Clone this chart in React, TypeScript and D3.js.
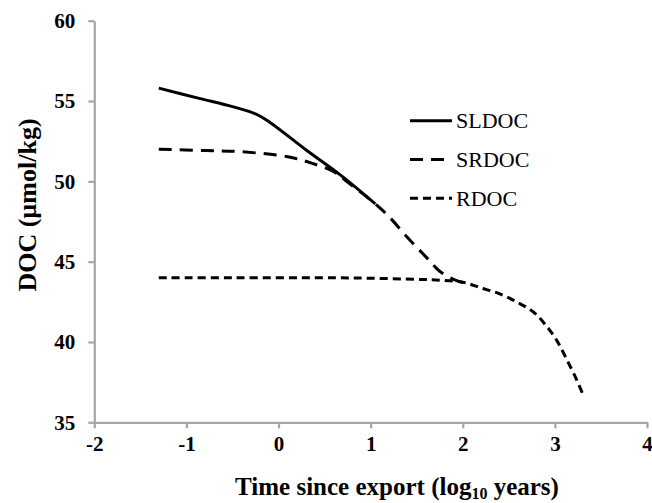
import { useEffect, useRef } from "react";
import * as d3 from "d3";

// values
const sldocX = [-1.3, -0.85, -0.5, -0.25, -0.1, 0.3, 0.67, 1.05];
const sldocY = [55.8, 55.15, 54.65, 54.2, 53.7, 51.95, 50.4, 48.6];

const srdocX = [-1.3, -0.8, -0.4, 0.1, 0.35, 0.6, 0.75, 1.05, 1.2, 1.4, 1.6, 1.75, 1.9, 2.0];
const srdocY = [52.0, 51.92, 51.84, 51.53, 51.15, 50.6, 49.95, 48.6, 47.8, 46.5, 45.3, 44.4, 43.9, 43.7];

const rdocX = [-1.3, -0.5, 0.5, 1.0, 1.5, 1.75, 2.0, 2.2, 2.4, 2.6, 2.77, 2.9, 3.02, 3.13, 3.24, 3.3];
const rdocY = [44.0, 44.0, 44.0, 43.97, 43.9, 43.85, 43.72, 43.36, 43.0, 42.45, 41.85, 41.05, 40.1, 38.9, 37.6, 36.8];

const seriesNames = ["SLDOC", "SRDOC", "RDOC"];
const xTicks = [-2, -1, 0, 1, 2, 3, 4];
const yTicks = [35, 40, 45, 50, 55, 60];

const width = 652;
const height = 503;
const left = 94.3;
const right = 647;
const top = 20.7;
const bottom = 422.3;
const font = "'Liberation Serif', 'Times New Roman', serif";

function App() {
  const svgRef = useRef(null);

  useEffect(() => {
    const svg = d3.select(svgRef.current);
    svg.selectAll("*").remove();

    const xScale = d3.scaleLinear().domain([-2, 4]).range([left, right]);
    const yScale = d3.scaleLinear().domain([35, 60]).range([bottom, top]);

    const series = [
      { name: seriesNames[0], xs: sldocX, ys: sldocY, dash: null },
      { name: seriesNames[1], xs: srdocX, ys: srdocY, dash: "13,8" },
      { name: seriesNames[2], xs: rdocX, ys: rdocY, dash: "8,5" },
    ];

    // axes
    const xAxis = d3
      .axisBottom(xScale)
      .tickValues(xTicks)
      .tickFormat((d) => String(d))
      .tickSize(6)
      .tickSizeOuter(0)
      .tickPadding(8);
    const yAxis = d3
      .axisLeft(yScale)
      .tickValues(yTicks)
      .tickFormat((d) => String(d))
      .tickSize(6)
      .tickSizeOuter(0)
      .tickPadding(13);

    const gx = svg.append("g").attr("transform", `translate(0,${bottom})`).call(xAxis);
    const gy = svg.append("g").attr("transform", `translate(${left},0)`).call(yAxis);

    [gx, gy].forEach((g) => {
      g.selectAll("path, line").attr("stroke", "#a6a6a6").attr("stroke-width", 2.2);
      g.selectAll("text")
        .attr("fill", "#000")
        .style("font-family", font)
        .style("font-weight", "bold")
        .style("font-size", "21px");
    });

    // lines
    const line = d3
      .line()
      .x((d) => xScale(d[0]))
      .y((d) => yScale(d[1]))
      .curve(d3.curveCatmullRom.alpha(0.5));

    series.forEach((s) => {
      const pts = s.xs.map((x, i) => [x, s.ys[i]]);
      svg
        .append("path")
        .attr("d", line(pts))
        .attr("fill", "none")
        .attr("stroke", "#000")
        .attr("stroke-width", 3)
        .attr("stroke-dasharray", s.dash);
    });

    // legend
    const legend = svg.append("g").attr("transform", "translate(410,120.7)");
    series.forEach((s, i) => {
      const g = legend.append("g").attr("transform", `translate(0,${i * 38.8})`);
      g.append("line")
        .attr("x1", 0)
        .attr("x2", 42)
        .attr("stroke", "#000")
        .attr("stroke-width", 3)
        .attr("stroke-dasharray", s.dash);
      g.append("text")
        .attr("x", 46)
        .attr("dy", "0.35em")
        .style("font-family", font)
        .style("font-size", "22px")
        .text(s.name);
    });

    // axis titles
    svg
      .append("text")
      .attr("transform", `translate(36,205) rotate(-90)`)
      .attr("text-anchor", "middle")
      .style("font-family", font)
      .style("font-weight", "bold")
      .style("font-size", "26px")
      .text("DOC (µmol/kg)");

    const xt = svg
      .append("text")
      .attr("x", 397)
      .attr("y", 495)
      .attr("text-anchor", "middle")
      .style("font-family", font)
      .style("font-weight", "bold")
      .style("font-size", "25px");
    xt.append("tspan").text("Time since export (log");
    xt.append("tspan").attr("dy", 4).style("font-size", "16px").text("10");
    xt.append("tspan").attr("dy", -4).text(" years)");
  }, []);

  return (
    <svg
      ref={svgRef}
      width={width}
      height={height}
      style={{ position: "absolute", left: 0, top: 0, background: "#fff" }}
    />
  );
}

export default App;
